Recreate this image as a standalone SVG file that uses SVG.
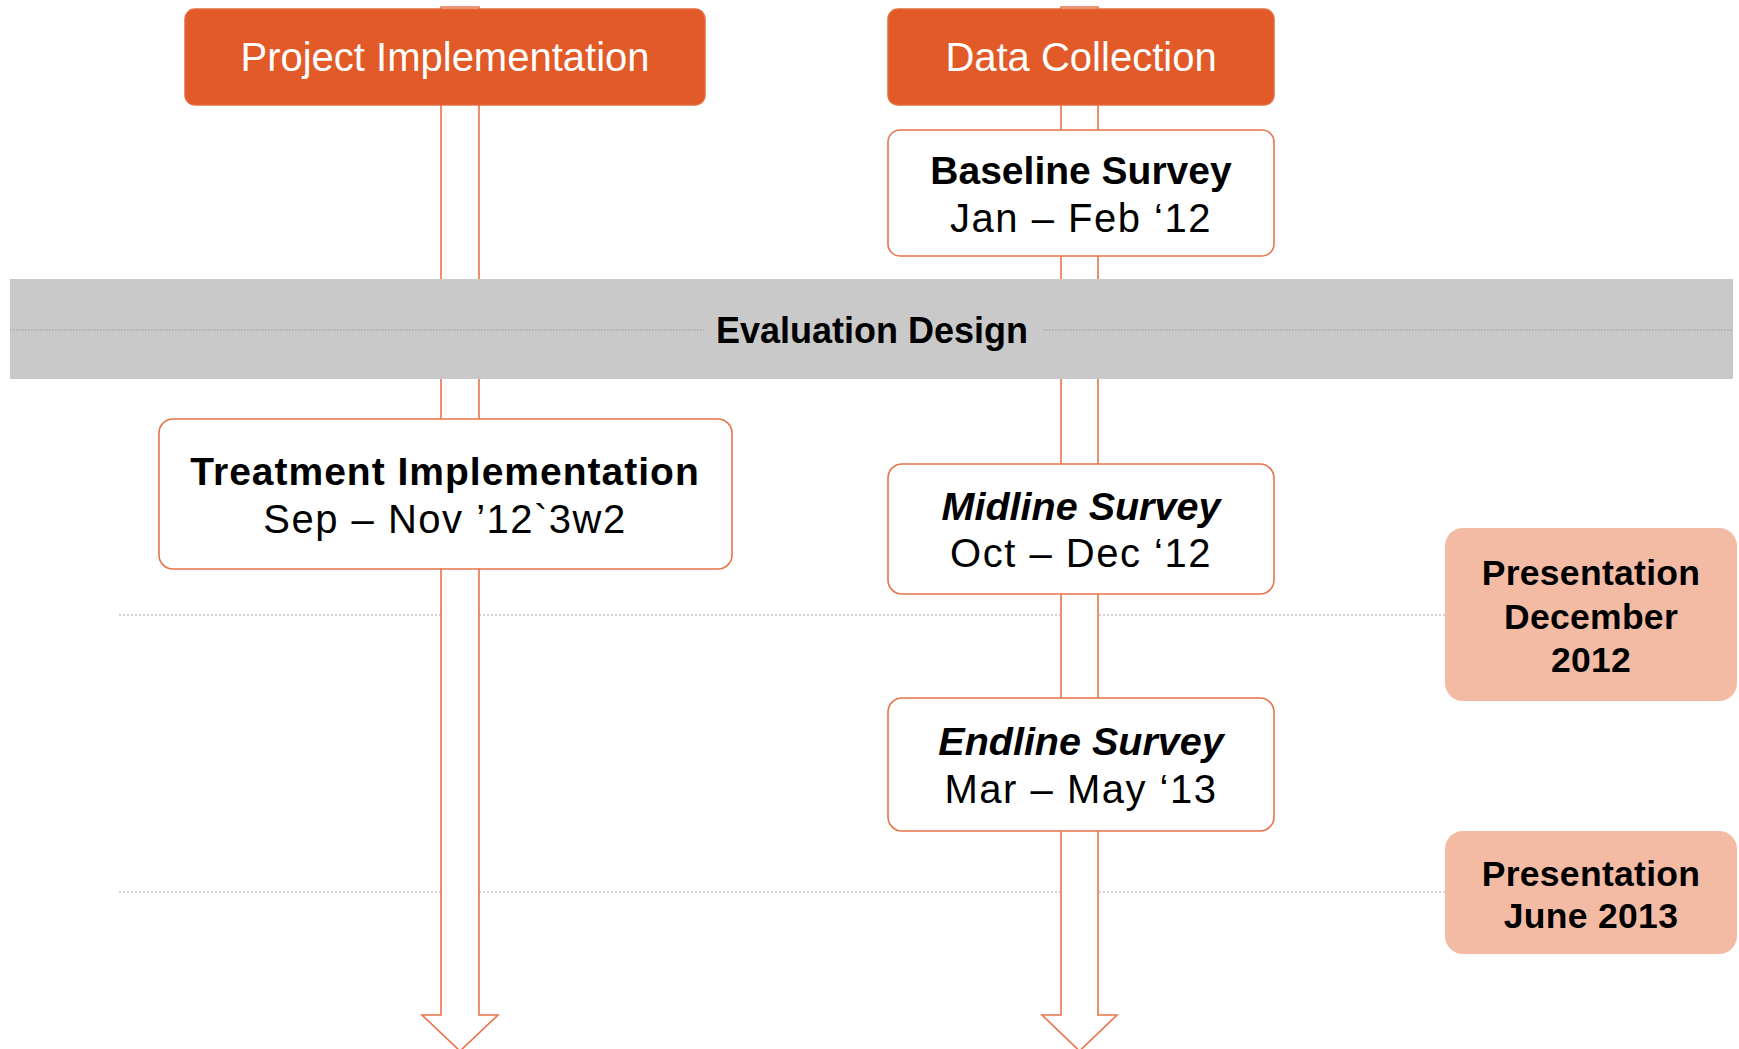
<svg xmlns="http://www.w3.org/2000/svg" width="1739" height="1049" viewBox="0 0 1739 1049">
  <style>
    .t { font-family: "Liberation Sans", Arial, sans-serif; text-anchor: middle; fill: #000; }
    .hdr { fill: #E25A27; stroke: #E46A3C; stroke-width: 1.5; }
    .hdr-t { font-size: 40px; fill: #fff; }
    .box { fill: #fff; stroke: #E8744A; stroke-width: 1.6; }
    .pres { fill: #F3BBA4; }
    .b { font-weight: bold; font-size: 39px; }
    .bi { font-weight: bold; font-style: italic; font-size: 39.5px; }
    .r { font-size: 40px; letter-spacing: 1.5px; }
    .p { font-weight: bold; font-size: 35.5px; letter-spacing: 0.3px; }
    .guide { stroke: #A8A8A8; stroke-width: 1.2; stroke-dasharray: 2 2; fill: none; }
    .guide-band { stroke: #9A9A9A; stroke-width: 1.2; stroke-dasharray: 1.5 1.5; fill: none; }
    .arrow { fill: #fff; stroke: #E8744A; stroke-width: 1.6; stroke-linejoin: miter; }
  </style>

  <rect width="1739" height="1049" fill="#fff"/>

  <!-- milestone guide lines -->
  <g id="guides">
    <line class="guide" x1="119" y1="615" x2="1445" y2="615"/>
    <line class="guide" x1="119" y1="892" x2="1445" y2="892"/>
  </g>

  <!-- connectors: the two timeline block arrows -->
  <g id="connectors">
    <path class="arrow" d="M441,7 H479 V1015 H498 L460,1051 L422,1015 H441 Z"/>
    <path class="arrow" d="M1061,7 H1098 V1015 H1117 L1079.5,1051 L1042,1015 H1061 Z"/>
  </g>

  <!-- evaluation design band -->
  <g id="evaluation-design">
    <rect x="10" y="279" width="1723" height="100" fill="#C9C9C9"/>
    <line class="guide-band" x1="10" y1="330" x2="705" y2="330"/>
    <line class="guide-band" x1="1043" y1="330" x2="1733" y2="330"/>
    <text class="t" x="872" y="343" font-weight="bold" font-size="36">Evaluation Design</text>
  </g>

  <g id="project-implementation">
    <rect class="hdr" x="185" y="9" width="520" height="96" rx="10"/>
    <text class="t hdr-t" x="445" y="71">Project Implementation</text>
  </g>

  <g id="data-collection">
    <rect class="hdr" x="888" y="9" width="386" height="96" rx="10"/>
    <text class="t hdr-t" x="1081" y="71">Data Collection</text>
  </g>

  <g id="baseline-survey">
    <rect class="box" x="888" y="130" width="386" height="126" rx="12"/>
    <text class="t b" x="1081" y="184">Baseline Survey</text>
    <text class="t r" x="1081" y="232">Jan – Feb ‘12</text>
  </g>

  <g id="treatment-implementation">
    <rect class="box" x="159" y="419" width="573" height="150" rx="14"/>
    <text class="t b" x="445" y="485" letter-spacing="1">Treatment Implementation</text>
    <text class="t r" x="445" y="533">Sep – Nov ’12`3w2</text>
  </g>

  <g id="midline-survey">
    <rect class="box" x="888" y="464" width="386" height="130" rx="14"/>
    <text class="t bi" x="1081" y="520">Midline Survey</text>
    <text class="t r" x="1081" y="567">Oct – Dec ‘12</text>
  </g>

  <g id="endline-survey">
    <rect class="box" x="888" y="698" width="386" height="133" rx="14"/>
    <text class="t bi" x="1081" y="755">Endline Survey</text>
    <text class="t r" x="1081" y="803">Mar – May ‘13</text>
  </g>

  <g id="presentation-dec-2012">
    <rect class="pres" x="1445" y="528" width="292" height="173" rx="18"/>
    <text class="t p" x="1591" y="585">Presentation</text>
    <text class="t p" x="1591" y="629">December</text>
    <text class="t p" x="1591" y="672">2012</text>
  </g>

  <g id="presentation-jun-2013">
    <rect class="pres" x="1445" y="831" width="292" height="123" rx="18"/>
    <text class="t p" x="1591" y="886">Presentation</text>
    <text class="t p" x="1591" y="928">June 2013</text>
  </g>
</svg>
